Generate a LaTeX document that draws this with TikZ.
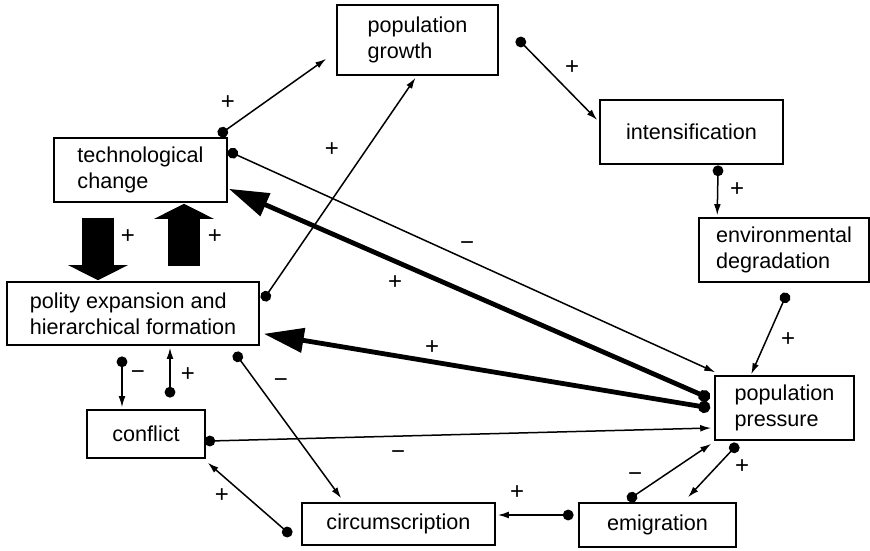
\documentclass[tikz,border=0pt]{standalone}
\usepackage{fontspec}
\setmainfont{Liberation Sans}
\usetikzlibrary{arrows.meta,calc}
\begin{document}
\begin{tikzpicture}[x=0.5pt,y=-0.5pt,
  box/.style={draw,line width=0.8pt,rectangle,inner sep=0pt,align=left,
    font=\fontsize{10.8}{12.8}\selectfont},
  link/.style={line width=0.75pt,
    {Circle[length=5.4pt]}-{Latex[length=5.5pt,width=3.4pt]},shorten <=-2.7pt},
  heavy/.style={line width=2.4pt,
    {Circle[length=6pt]}-{Triangle[length=20pt,width=12pt]},shorten <=-3pt},
  block/.style={line width=16.2pt,-{Triangle[length=7.5pt,width=29.5pt]}},
  sign/.style={font=\fontsize{12}{12}\selectfont,inner sep=0pt}]
\useasboundingbox (0,0) rectangle (870,550);

% variables
\node[box,minimum width=80.5pt,minimum height=35pt] (pg) at (417.5,40) {population\\growth};
\node[box,minimum width=86.5pt,minimum height=32pt] (tc) at (140.5,170) {technological\\change};
\node[box,minimum width=126pt,minimum height=31.5pt] (pe) at (133,313.5) {polity expansion and\\hierarchical formation};
\node[box,minimum width=91.5pt,minimum height=32pt] (in) at (691.5,132) {intensification};
\node[box,minimum width=85pt,minimum height=32pt] (ed) at (784,250) {environmental\\degradation};
\node[box,minimum width=69.5pt,minimum height=32pt] (pp) at (784.5,408) {population\\pressure};
\node[box,minimum width=59pt,minimum height=24pt] (cf) at (146,434) {conflict};
\node[box,minimum width=96.5pt,minimum height=21pt] (cs) at (398.5,524) {circumscription};
\node[box,minimum width=78.5pt,minimum height=22pt] (em) at (657.5,525) {emigration};

% thin causal links
\draw[link] ([shift={(-5,-5)}]tc.north east) -- ([shift={(-10,-17)}]pg.south west);
\draw[link] ([shift={(5,16)}]tc.north east) -- ([shift={(1,-3)}]pp.north west);
\draw[link] ([shift={(6,15)}]pe.north east) -- ([shift={(-2,2)}]pg.south);
\draw[link] ([shift={(22,2)}]pg.east) -- ([shift={(-2,-12)}]in.west);
\draw[link] ([shift={(26.5,6)}]in.south) -- ([shift={(19,-2)}]ed.north west);
\draw[link] ([shift={(1,15)}]ed.south) -- ([shift={(37,-1)}]pp.north west);
\draw[link] ([shift={(-11,16)}]pe.south) -- ([shift={(-24,-2)}]cf.north);
\draw[link] ([shift={(24,-17)}]cf.north) -- ([shift={(37,2)}]pe.south);
\draw[link] ([shift={(-22,11)}]pe.south east) -- ([shift={(40,-4)}]cs.north west);
\draw[link] ([shift={(4,7)}]cf.east) -- ([shift={(-3,20)}]pp.west);
\draw[link] ([shift={(-14,8)}]cs.west) -- ([shift={(2,4)}]cf.south east);
\draw[link] ([shift={(-10,-10)}]em.west) -- ([shift={(2,-9)}]cs.east);
\draw[link] ([shift={(-25.5,-5)}]em.north) -- ([shift={(-3,3)}]pp.south west);
\draw[link] ([shift={(20,7)}]pp.south west) -- ([shift={(30.5,-5)}]em.north);

% strong links from population pressure
\draw[heavy] ([shift={(-10,-12)}]pp.west) -- ([shift={(1,-14)}]tc.south east);
\draw[heavy] ([shift={(-10,-1)}]pp.west) -- ([shift={(4,-12)}]pe.south east);

% mutual reinforcement of technology and polity
\draw[block] ([shift={(-42.5,15)}]tc.south) -- ([shift={(-35,-1)}]pe.north);
\draw[block] ([shift={(51,-15)}]pe.north) -- ([shift={(43.5,1)}]tc.south);

% signs
\node[sign] (s1) at (228,103) {+};
\node[sign] (s2) at (467,246) {−};
\node[sign] (s3) at (332,150) {+};
\node[sign] (s4) at (572,68) {+};
\node[sign] (s5) at (737,190) {+};
\node[sign] (s6) at (788,340) {+};
\node[sign] (s7) at (395,283) {+};
\node[sign] (s8) at (432,348) {+};
\node[sign] (s9) at (138,375) {−};
\node[sign] (s10) at (188,375) {+};
\node[sign] (s11) at (281,383) {−};
\node[sign] (s12) at (398,455) {−};
\node[sign] (s13) at (222,496) {+};
\node[sign] (s14) at (517,493) {+};
\node[sign] (s15) at (635,477) {−};
\node[sign] (s16) at (742,467) {+};
\node[sign] (s17) at (128,237) {+};
\node[sign] (s18) at (215,237) {+};
\end{tikzpicture}
\end{document}
